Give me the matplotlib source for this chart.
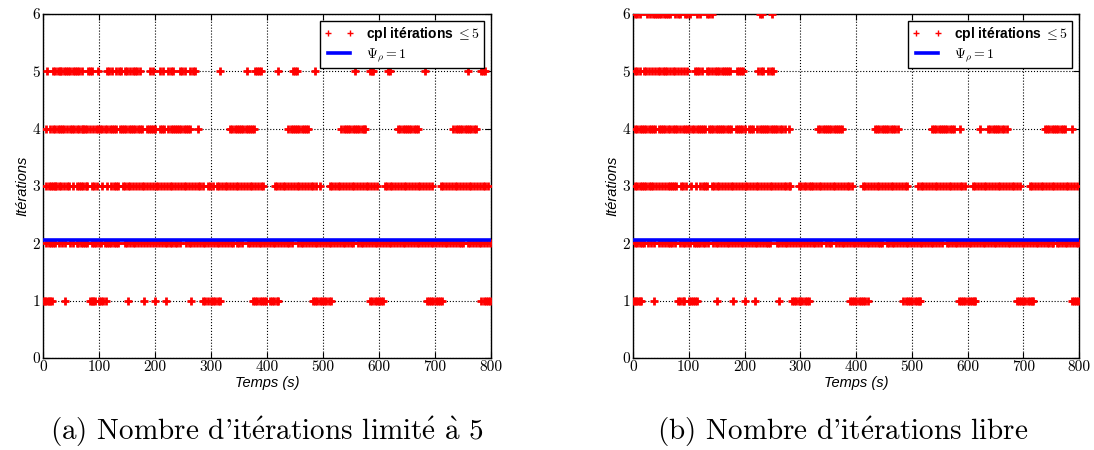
import matplotlib
matplotlib.use("Agg")
import matplotlib.pyplot as plt

plt.rcParams['mathtext.fontset'] = 'cm'
plt.rcParams['axes.formatter.use_mathtext'] = True

# ---------------- Data: times (s) at which coupling needed N iterations ----------------
levels = [1, 2, 3, 4, 5, 6]
xticks = [0, 100, 200, 300, 400, 500, 600, 700, 800]
yticks = [0, 1, 2, 3, 4, 5, 6]
psi_level = 2.06

# (a) limited to 5 iterations
a_t1 = [1, 4, 7, 10, 13, 16, 39, 84, 87, 90, 93, 100, 104, 108, 112, 152, 180, 200, 220, 264,
        286, 290, 294, 300, 304, 308, 312, 316, 375, 379, 383, 387, 391, 395, 399, 405, 409,
        413, 417, 420, 482, 486, 490, 494, 498, 502, 506, 510, 514, 584, 588, 592, 596, 600,
        604, 608, 685, 689, 693, 697, 701, 705, 709, 713, 783, 787, 791, 795, 799]
a_t2 = [6, 10, 14, 18, 22, 29, 34, 39, 48, 54, 60, 63, 67, 71, 75, 78, 87, 91, 95, 100, 104,
        110, 114, 117, 122, 126, 130, 134, 146, 150, 155, 160, 165, 170, 175, 180, 185, 191,
        197, 202, 207, 212, 217, 222, 226, 230, 236, 240, 245, 256, 260, 265, 270, 275, 280,
        285, 290, 295, 300, 305, 310, 315, 320, 325, 330, 335, 340, 346, 350, 355, 366, 370,
        375, 380, 385, 390, 395, 400, 405, 410, 415, 420, 425, 430, 435, 440, 445, 456, 460,
        465, 470, 475, 480, 485, 490, 495, 500, 505, 510, 515, 520, 525, 530, 535, 540, 545,
        550, 554, 563, 567, 572, 577, 582, 587, 592, 597, 602, 607, 612, 617, 622, 627, 632,
        637, 642, 647, 652, 657, 662, 667, 672, 677, 682, 687, 692, 697, 702, 707, 712, 717,
        722, 727, 732, 737, 742, 747, 750, 759, 763, 768, 773, 778, 783, 788, 793, 798]
a_t3 = [6, 10, 14, 18, 22, 24, 29, 33, 37, 42, 47, 54, 60, 64, 68, 72, 76, 78, 87, 91, 96, 105,
        114, 122, 126, 130, 134, 142, 146, 151, 156, 161, 166, 171, 176, 181, 186, 191, 196,
        201, 206, 211, 216, 221, 226, 231, 236, 241, 246, 251, 256, 261, 266, 271, 276, 281,
        286, 295, 299, 304, 310, 314, 319, 325, 329, 334, 339, 344, 349, 354, 359, 364, 369,
        374, 379, 384, 389, 393, 414, 418, 423, 428, 433, 438, 443, 448, 453, 458, 463, 468,
        473, 478, 483, 488, 494, 512, 516, 521, 526, 531, 536, 541, 546, 551, 556, 561, 566,
        571, 576, 581, 586, 591, 596, 610, 614, 619, 624, 629, 634, 639, 644, 649, 654, 659,
        664, 669, 674, 679, 684, 689, 694, 711, 715, 720, 725, 730, 735, 740, 745, 750, 755,
        760, 765, 770, 775, 780, 785, 790, 795]
a_t4 = [6, 12, 18, 22, 26, 30, 34, 38, 42, 48, 52, 56, 60, 65, 69, 72, 75, 79, 84, 90, 94, 98,
        102, 105, 111, 115, 119, 123, 127, 131, 137, 141, 145, 149, 153, 157, 161, 165, 169,
        173, 177, 185, 189, 193, 197, 200, 209, 213, 216, 224, 228, 232, 236, 239, 243, 247,
        251, 255, 259, 262, 277, 334, 338, 342, 346, 350, 354, 358, 362, 366, 370, 374, 376,
        438, 442, 446, 450, 454, 458, 462, 466, 470, 474, 533, 537, 541, 545, 549, 553, 557,
        561, 565, 569, 573, 575, 634, 638, 642, 646, 650, 654, 658, 662, 666, 670, 733, 737,
        741, 745, 749, 753, 757, 761, 765, 769, 773]
a_t5 = [8, 18, 22, 26, 30, 33, 37, 41, 45, 49, 53, 57, 61, 65, 69, 81, 84, 87, 99, 114, 118,
        123, 131, 135, 140, 146, 150, 155, 160, 164, 168, 173, 191, 197, 209, 215, 224, 228,
        233, 245, 249, 253, 262, 267, 271, 316, 364, 378, 382, 386, 390, 420, 447, 450, 453,
        486, 557, 584, 587, 590, 616, 619, 682, 759, 783, 786, 789]
a_t6 = []

# (b) free number of iterations
b_t1 = [0, 3, 6, 9, 12, 15, 38, 81, 85, 89, 92, 100, 104, 108, 112, 114, 151, 180, 201, 219,
        262, 285, 289, 293, 297, 300, 304, 308, 312, 315, 389, 393, 397, 400, 405, 409, 413,
        417, 422, 485, 489, 493, 497, 501, 505, 509, 513, 515, 584, 588, 592, 596, 600, 604,
        608, 612, 614, 688, 692, 696, 700, 704, 708, 712, 716, 718, 787, 791, 795, 799]
b_t2 = [4, 8, 12, 16, 20, 27, 32, 37, 46, 52, 58, 62, 66, 70, 75, 84, 89, 94, 99, 103, 109,
        113, 117, 121, 125, 129, 135, 144, 148, 153, 158, 163, 168, 173, 178, 183, 188, 193,
        198, 203, 208, 213, 218, 223, 228, 233, 238, 242, 246, 258, 262, 267, 272, 277, 282,
        287, 292, 297, 302, 307, 312, 317, 322, 327, 332, 338, 347, 351, 356, 365, 369, 374,
        379, 384, 389, 394, 399, 404, 409, 414, 419, 424, 429, 434, 439, 443, 446, 455, 459,
        464, 469, 474, 479, 484, 489, 494, 499, 504, 509, 514, 519, 524, 529, 534, 539, 544,
        549, 554, 563, 567, 572, 577, 582, 587, 592, 597, 602, 607, 612, 617, 622, 627, 632,
        637, 642, 647, 652, 657, 662, 667, 672, 677, 682, 687, 692, 697, 702, 707, 712, 717,
        722, 727, 732, 737, 742, 747, 751, 754, 760, 764, 769, 774, 779, 784, 789, 794, 799]
b_t3 = [4, 8, 12, 16, 20, 24, 28, 32, 36, 41, 46, 52, 58, 62, 66, 70, 74, 78, 86, 90, 95, 104,
        113, 121, 125, 129, 133, 141, 145, 150, 155, 160, 165, 170, 175, 180, 185, 190, 195,
        200, 205, 210, 215, 220, 225, 230, 235, 240, 245, 250, 255, 260, 265, 270, 275, 279,
        282, 297, 301, 306, 311, 316, 320, 323, 328, 333, 338, 343, 348, 353, 358, 363, 368,
        373, 378, 383, 388, 392, 413, 417, 422, 427, 432, 437, 442, 447, 452, 457, 462, 467,
        472, 477, 482, 487, 491, 512, 516, 521, 526, 531, 536, 541, 546, 551, 556, 561, 566,
        571, 576, 581, 586, 591, 596, 610, 614, 619, 624, 629, 634, 639, 644, 649, 654, 659,
        664, 669, 674, 679, 684, 689, 694, 712, 716, 721, 726, 731, 736, 741, 746, 751, 756,
        761, 766, 771, 776, 781, 786, 791, 796]
b_t4 = [4, 8, 12, 16, 20, 24, 28, 32, 36, 40, 46, 50, 54, 58, 63, 67, 71, 75, 79, 84, 89, 93,
        97, 101, 105, 110, 114, 118, 122, 126, 130, 136, 140, 144, 148, 152, 156, 160, 164,
        168, 172, 176, 184, 188, 192, 196, 200, 208, 212, 216, 223, 227, 231, 235, 239, 243,
        247, 251, 255, 259, 263, 267, 272, 279, 332, 336, 340, 344, 348, 352, 356, 360, 364,
        368, 372, 374, 434, 438, 442, 446, 450, 454, 458, 462, 466, 470, 476, 536, 540, 544,
        548, 552, 556, 560, 564, 568, 572, 575, 587, 622, 637, 641, 645, 649, 653, 657, 661,
        665, 670, 739, 743, 747, 751, 755, 759, 763, 767, 771, 775, 787]
b_t5 = [4, 8, 12, 19, 24, 29, 34, 39, 45, 49, 53, 57, 61, 66, 71, 76, 81, 86, 91, 96, 111, 115,
        119, 123, 132, 136, 141, 147, 151, 155, 159, 163, 167, 171, 174, 186, 190, 194, 198,
        225, 229, 234, 243, 247, 252]
b_t6 = [4, 8, 12, 25, 30, 35, 40, 43, 47, 51, 55, 59, 63, 66, 75, 80, 84, 93, 97, 102, 114, 120,
        132, 136, 141, 228, 231, 249]

series_a = [a_t1, a_t2, a_t3, a_t4, a_t5, a_t6]
series_b = [b_t1, b_t2, b_t3, b_t4, b_t5, b_t6]

legend_pts = "cpl itérations $\\leq 5$"
legend_line = "$\\Psi_\\rho = 1$"
xlabel = "Temps (s)"
ylabel = "Itérations"
captions = ["(a) Nombre d'it$\\acute{\\rm e}$rations limit$\\acute{\\rm e}$ $\\grave{\\rm a}$ 5",
            "(b) Nombre d'it$\\acute{\\rm e}$rations libre"]

# ---------------- Figure ----------------
W, H = 1094, 450
fig = plt.figure(figsize=(W / 100, H / 100), dpi=100)
ax1 = fig.add_axes([43 / W, 1 - 358 / H, 448 / W, 344 / H])
ax2 = fig.add_axes([633 / W, 1 - 358 / H, 446 / W, 344 / H])

tick_font = {'family': 'cmr10', 'size': 11}
label_font = dict(family='Liberation Sans', style='italic', size=10.5)

for ax, series in ((ax1, series_a), (ax2, series_b)):
    first = True
    for lvl, ts in zip(levels, series):
        if not ts:
            continue
        ax.plot(ts, [lvl] * len(ts), linestyle='none', marker='+', color='red',
                markersize=5.5, markeredgewidth=2.0,
                label=legend_pts if first else None, zorder=3)
        first = False
    ax.axhline(psi_level, color='blue', linewidth=2.6, label=legend_line, zorder=4)
    ax.set_xlim(0, 800)
    ax.set_ylim(0, 6)
    ax.set_xticks(xticks)
    ax.set_yticks(yticks)
    ax.set_xticklabels([str(v) for v in xticks], fontdict=tick_font)
    ax.set_yticklabels([str(v) for v in yticks], fontdict=tick_font)
    ax.tick_params(direction='in', top=True, right=True, length=4, width=0.8, pad=2)
    ax.grid(True, linestyle=':', color='black', linewidth=0.8)
    ax.set_axisbelow(True)
    for s in ax.spines.values():
        s.set_linewidth(1.0)
    ax.set_xlabel(xlabel, fontdict=label_font, labelpad=1)
    ax.set_ylabel(ylabel, fontdict=label_font, labelpad=2)
    leg = ax.legend(loc='upper right', numpoints=2, fancybox=False, framealpha=1,
                    edgecolor='black', borderaxespad=0.5, handlelength=2.2,
                    borderpad=0.3, labelspacing=0.25,
                    prop={'family': 'Liberation Sans', 'weight': 'bold', 'size': 10})
    leg.get_frame().set_linewidth(1.0)
    h0 = leg.legend_handles[0]
    h0.set_markersize(4)
    h0.set_markeredgewidth(1.0)

fig.text(267 / W, 1 - 440 / H, captions[0], ha='center', va='baseline',
         family='cmr10', size=21)
fig.text(843 / W, 1 - 440 / H, captions[1], ha='center', va='baseline',
         family='cmr10', size=21)

fig.savefig('out.png', dpi=100)
